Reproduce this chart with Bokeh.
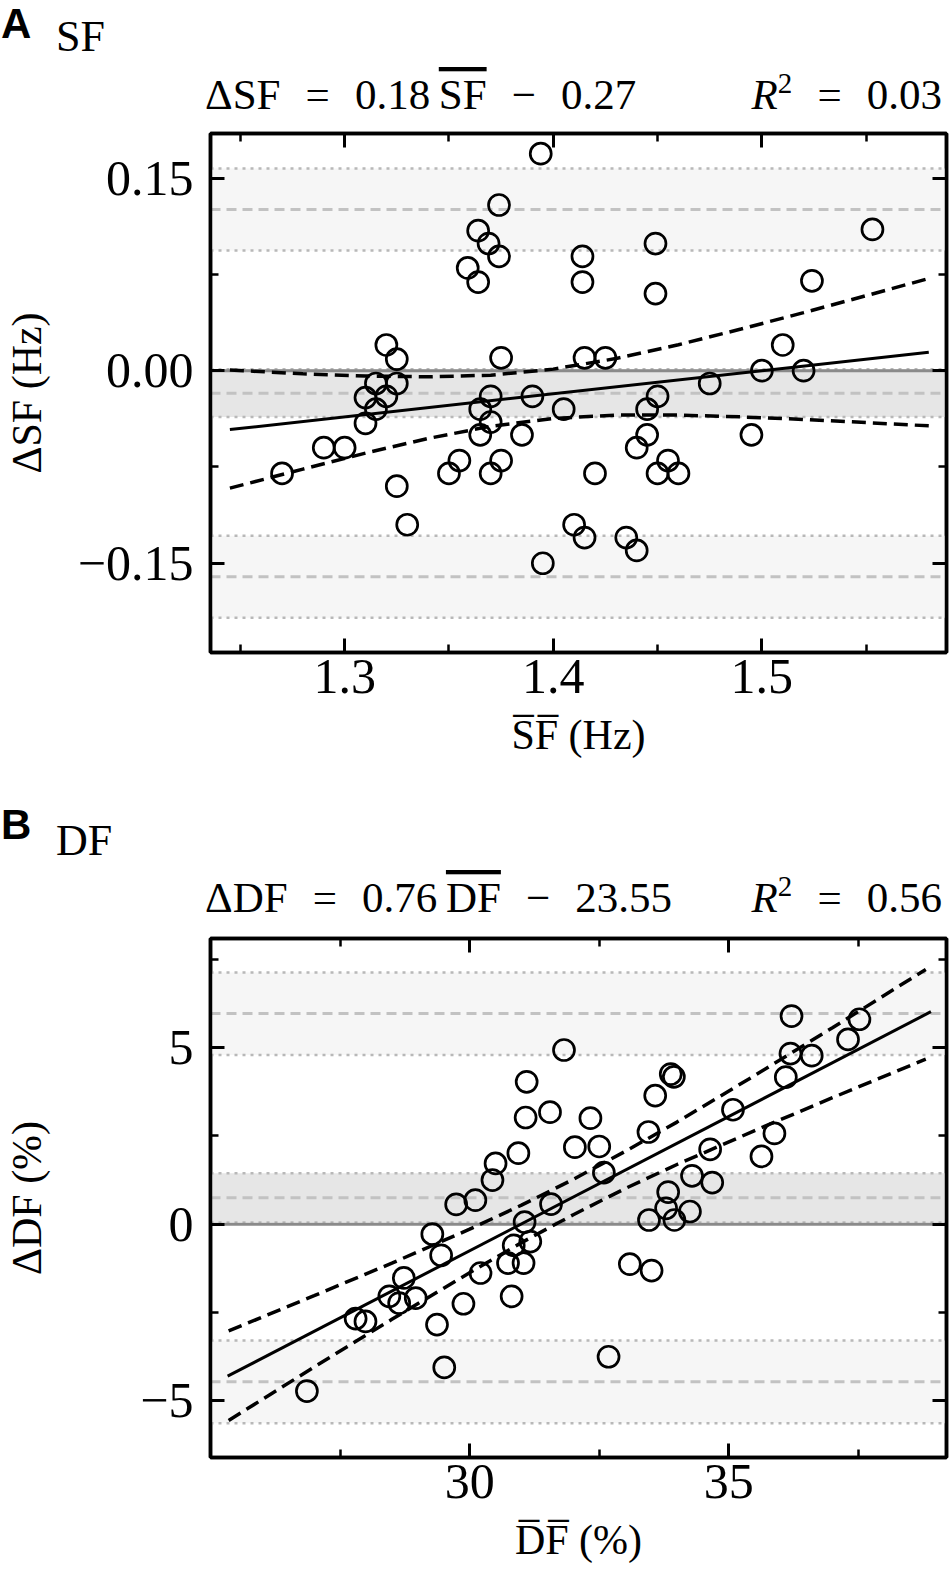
from bokeh.plotting import figure
from bokeh.models import Range1d, FixedTicker, LinearAxis, Span, BoxAnnotation, Div
from bokeh.layouts import column
from bokeh.embed import file_html
from bokeh.resources import INLINE

# ---------------- Panel A : SF ----------------
sf_mean = [1.320, 1.325, 1.315, 1.325, 1.310, 1.320, 1.315, 1.310, 1.290, 1.300,
           1.270, 1.325, 1.330, 1.375, 1.370, 1.365, 1.370, 1.365, 1.390, 1.385,
           1.355, 1.350, 1.375, 1.370, 1.405, 1.415, 1.425, 1.420, 1.410, 1.415,
           1.395, 1.435, 1.440, 1.445, 1.450, 1.445, 1.440, 1.455, 1.450, 1.460,
           1.475, 1.495, 1.500, 1.510, 1.520, 1.394, 1.374, 1.364, 1.369, 1.374,
           1.359, 1.364, 1.414, 1.414, 1.449, 1.449, 1.553, 1.524]
sf_diff = [0.020, 0.009, -0.010, -0.010, -0.021, -0.020, -0.030, -0.041, -0.060, -0.060,
           -0.080, -0.090, -0.120, 0.010, -0.020, -0.030, -0.040, -0.050, -0.020, -0.050,
           -0.070, -0.080, -0.070, -0.080, -0.030, 0.010, 0.010, -0.080, -0.120, -0.130,
           -0.150, -0.130, -0.140, -0.030, -0.020, -0.050, -0.060, -0.070, -0.080, -0.080,
           -0.010, -0.050, 0.000, 0.020, 0.000, 0.169, 0.129, 0.109, 0.099, 0.089,
           0.080, 0.069, 0.089, 0.069, 0.099, 0.060, 0.110, 0.070]
sf_slope, sf_intercept, sf_r2 = 0.18, -0.27, 0.03
sf_fit_x = [1.245, 1.58]
sf_ci_x = [1.245, 1.28, 1.31, 1.34, 1.37, 1.40, 1.43, 1.46, 1.49, 1.52, 1.55, 1.58]
sf_ci_upper = [0.0005, -0.0025, -0.0042, -0.0048, -0.0035, 0.0012, 0.0094, 0.0202,
               0.0324, 0.0452, 0.0584, 0.0718]
sf_ci_lower = [-0.0915, -0.0767, -0.0642, -0.0528, -0.0433, -0.0372, -0.0346, -0.0346,
               -0.0360, -0.0380, -0.0404, -0.0430]
sf_bias, sf_bias_ci = -0.0175, [-0.036, 0.001]
sf_loa_upper, sf_loa_upper_ci = 0.1255, [0.0935, 0.1575]
sf_loa_lower, sf_loa_lower_ci = -0.1605, [-0.1925, -0.1285]
sf_xticks, sf_xminor, sf_xlabels = [1.3, 1.4, 1.5], [1.25, 1.35, 1.45, 1.55], ["1.3", "1.4", "1.5"]
sf_yticks, sf_yminor, sf_ylabels = [-0.15, 0.0, 0.15], [-0.075, 0.075], ["\u22120.15", "0.00", "0.15"]

# ---------------- Panel B : DF ----------------
df_mean = [36.21, 37.52, 37.30, 36.19, 36.60, 36.10, 31.82, 33.88, 33.94, 33.58,
           31.10, 31.08, 31.55, 32.33, 33.45, 32.03, 32.50, 30.94, 35.08, 35.88,
           35.63, 30.50, 30.44, 30.11, 29.74, 32.59, 31.57, 34.64, 34.29, 34.68,
           33.83, 33.79, 34.25, 33.46, 33.95, 31.06, 29.28, 31.17, 30.85, 29.45,
           30.74, 31.04, 28.73, 30.21, 28.45, 28.96, 28.64, 30.81, 29.88, 33.09,
           33.51, 27.80, 27.99, 29.37, 32.68, 29.51, 26.86]
df_diff = [5.89, 5.80, 5.23, 4.83, 4.77, 4.16, 4.93, 4.25, 4.17, 3.64,
           4.03, 3.02, 3.17, 3.00, 2.61, 2.18, 2.20, 2.01, 3.24, 2.57,
           1.92, 1.72, 1.25, 0.68, 0.56, 1.46, 0.57, 2.12, 1.37, 1.18,
           0.91, 0.45, 0.36, 0.12, 0.12, 0.06, -0.28, -0.49, -0.60, -0.88,
           -1.10, -1.10, -1.52, -1.38, -2.04, -2.09, -2.23, -2.04, -2.25, -1.13,
           -1.31, -2.67, -2.75, -2.84, -3.75, -4.05, -4.72]
df_slope, df_intercept, df_r2 = 0.76, -23.55, 0.56
df_fit_x = [25.33, 38.9]
df_ci_x = [25.35, 27.0, 28.5, 30.0, 31.0, 32.0, 33.0, 34.0, 35.5, 37.0, 38.8]
df_ci_upper = [-3.02, -2.02, -1.10, -0.14, 0.54, 1.27, 2.06, 2.89, 4.21, 5.56, 7.21]
df_ci_lower = [-5.55, -4.04, -2.69, -1.37, -0.52, 0.27, 1.01, 1.69, 2.65, 3.58, 4.67]
df_bias, df_bias_ci = 0.75, [0.05, 1.44]
df_loa_upper, df_loa_upper_ci = 5.96, [4.79, 7.12]
df_loa_lower, df_loa_lower_ci = -4.46, [-5.63, -3.29]
df_xticks, df_xminor, df_xlabels = [30, 35], [27.5, 32.5, 37.5], ["30", "35"]
df_yticks, df_yminor, df_ylabels = [-5, 0, 5], [-2.5, 2.5, 7.5], ["\u22125", "0", "5"]

SERIF = "Liberation Serif"
OL = "\u0305"
S1 = "\u2002\u200a"
S2 = "\u2009"
FW, FH = 736, 519
LEFT, RIGHT = 208, 4
W = LEFT + FW + RIGHT


def style_axis(ax, ticks, minor, labels=None, show=True):
    ax.ticker = FixedTicker(ticks=ticks, minor_ticks=minor)
    ax.major_tick_in = 14
    ax.major_tick_out = 0
    ax.minor_tick_in = 8
    ax.minor_tick_out = 0
    ax.major_tick_line_width = 3
    ax.minor_tick_line_width = 2.5
    ax.major_tick_line_color = "black"
    ax.minor_tick_line_color = "black"
    ax.axis_line_width = 3.5
    ax.axis_line_color = "black"
    if show:
        ax.major_label_overrides = {t: l for t, l in zip(ticks, labels)}
        ax.major_label_text_font = SERIF
        ax.major_label_text_font_size = "50px"
        ax.major_label_text_color = "black"
        ax.axis_label_text_font = SERIF
        ax.axis_label_text_font_size = "42px"
        ax.axis_label_text_font_style = "normal"
        ax.axis_label_text_color = "black"
    else:
        ax.major_label_overrides = {t: "" for t in ticks}
        ax.major_label_text_font_size = "0px"
        ax.major_label_standoff = 0
        ax.axis_label_standoff = 0


def st(family, size, extra=""):
    return 'style="font-family:\'%s\';font-size:%dpx;fill:black;%s"' % (family, size, extra)


def header(h, letter, letter_base, name, name_base, sym, slope, intercept, eq_base, r2):
    sign = "\u2212" if intercept < 0 else "+"
    eq = ('\u0394%s%s=%s%.2f%s<tspan style="text-decoration:overline">%s</tspan>%s%s%s%.2f'
          % (sym, S1, S1, slope, S2, sym, S1, sign, S1, abs(intercept)))
    svg = (
        '<svg xmlns="http://www.w3.org/2000/svg" width="%d" height="%d" style="display:block">'
        '<text x="1" y="%d" %s>%s</text>'
        '<text x="56" y="%d" %s>%s</text>'
        '<text x="205" y="%d" %s>%s</text>'
        '<text x="%d" y="%d" %s>'
        '<tspan style="font-style:italic">R</tspan><tspan dy="-16" style="font-size:29px">2</tspan>'
        '<tspan dy="16">%s=%s%.2f</tspan></text>'
        '</svg>'
    ) % (W, h,
         letter_base, st("Liberation Sans", 42, "font-weight:bold"), letter,
         name_base, st(SERIF, 44), name,
         eq_base, st(SERIF, 43), eq,
         LEFT + FW - 2, eq_base, st(SERIF, 43, "text-anchor:end"), S1, S1, r2)
    return Div(text=svg, width=W, height=h, margin=0, styles={"padding": "0", "margin": "0"})


def panel(mean, diff, slope, intercept, fit_x, ci_x, ci_up, ci_lo,
          bias, bias_ci, loa_u, loa_u_ci, loa_l, loa_l_ci,
          xt, xm, xl, yt, ym, yl, xr, yr, bot_b, xlabel, ylabel, ystandoff):
    p = figure(frame_width=FW, frame_height=FH, x_range=Range1d(*xr), y_range=Range1d(*yr),
               output_backend="svg", toolbar_location=None, margin=0,
               min_border_left=LEFT, min_border_right=RIGHT,
               min_border_top=6, min_border_bottom=bot_b)
    p.xgrid.visible = False
    p.ygrid.visible = False
    p.outline_line_color = "black"
    p.outline_line_width = 3.5
    p.background_fill_color = "white"
    p.border_fill_color = "white"

    style_axis(p.xaxis[0], xt, xm, xl)
    style_axis(p.yaxis[0], yt, ym, yl)
    p.xaxis[0].axis_label = xlabel
    p.yaxis[0].axis_label = ylabel
    p.xaxis[0].major_label_standoff = 7
    p.xaxis[0].axis_label_standoff = 16
    p.yaxis[0].major_label_standoff = 17
    p.yaxis[0].axis_label_standoff = ystandoff
    top_ax = LinearAxis()
    right_ax = LinearAxis()
    style_axis(top_ax, xt, xm, show=False)
    style_axis(right_ax, yt, ym, show=False)
    p.add_layout(top_ax, "above")
    p.add_layout(right_ax, "right")

    light, mid = "#f6f6f6", "#e6e6e6"
    for lo, hi, col in [(loa_u_ci[0], loa_u_ci[1], light), (loa_l_ci[0], loa_l_ci[1], light),
                        (bias_ci[0], bias_ci[1], mid)]:
        p.add_layout(BoxAnnotation(bottom=lo, top=hi, fill_color=col, fill_alpha=1,
                                   line_color=None, level="underlay"))
    for v in [loa_u_ci[0], loa_u_ci[1], loa_l_ci[0], loa_l_ci[1], bias_ci[0], bias_ci[1]]:
        p.add_layout(Span(location=v, dimension="width", line_color="#b8b8b8",
                          line_width=2.5, line_dash="3 5", level="underlay"))
    for v in [loa_u, loa_l, bias]:
        p.add_layout(Span(location=v, dimension="width", line_color="#c2c2c2",
                          line_width=3, line_dash="10 6", level="underlay"))
    p.add_layout(Span(location=0, dimension="width", line_color="#8a8a8a",
                      line_width=3, level="underlay"))

    fit_y = [slope * x + intercept for x in fit_x]
    p.line(ci_x, ci_up, line_color="black", line_width=3.5, line_dash="14 7")
    p.line(ci_x, ci_lo, line_color="black", line_width=3.5, line_dash="14 7")
    p.line(fit_x, fit_y, line_color="black", line_width=3)
    p.scatter(mean, diff, marker="circle", size=21, fill_color=None,
              line_color="black", line_width=2.7)
    return p


hA = header(127, "A", 38, "SF", 51, "SF", sf_slope, sf_intercept, 109, sf_r2)
pA = panel(sf_mean, sf_diff, sf_slope, sf_intercept, sf_fit_x, sf_ci_x, sf_ci_upper,
           sf_ci_lower, sf_bias, sf_bias_ci, sf_loa_upper, sf_loa_upper_ci, sf_loa_lower,
           sf_loa_lower_ci, sf_xticks, sf_xminor, sf_xlabels, sf_yticks, sf_yminor, sf_ylabels,
           (1.2357, 1.5885), (-0.2195, 0.1847), 128,
           "S" + OL + "F" + OL + " (Hz)", "\u0394SF (Hz)", 25)
hB = header(152, "B", 59, "DF", 75, "DF", df_slope, df_intercept, 132, df_r2)
pB = panel(df_mean, df_diff, df_slope, df_intercept, df_fit_x, df_ci_x, df_ci_upper,
           df_ci_lower, df_bias, df_bias_ci, df_loa_upper, df_loa_upper_ci, df_loa_lower,
           df_loa_lower_ci, df_xticks, df_xminor, df_xlabels, df_yticks, df_yminor, df_ylabels,
           (25.0, 39.2), (-6.6, 8.085), 120,
           "D" + OL + "F" + OL + " (%)", "\u0394DF (%)", 87)

layout = column(hA, pA, hB, pB, spacing=0)
open("out.html", "w", encoding="utf-8").write(file_html(layout, INLINE))
